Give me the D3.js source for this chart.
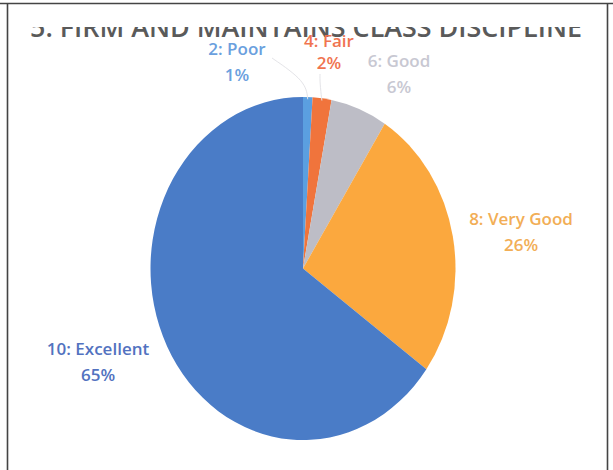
<!DOCTYPE html>
<html>
<head>
<meta charset="utf-8">
<script src="https://cdn.jsdelivr.net/npm/d3@7"></script>
<style>
  body { margin: 0; background: #fff; }
  svg { display: block; }
  .label { font-family: "Open Sans", "Liberation Sans", sans-serif; font-size: 17px; font-weight: 600; text-anchor: middle; }
</style>
</head>
<body>
<div class="wrap-chart"></div>
<script>
// data
var categories = ["2: Poor", "4: Fair", "6: Good", "8: Very Good", "10: Excellent"];
var values = [1, 2, 6, 26, 65];
var colors = ["#5b9fe0", "#f0743c", "#bdbdc6", "#fba83e", "#4a7cc7"];
var labelColors = ["#6aa0de", "#f07450", "#c8c8d2", "#f2ae56", "#5272c0"];
var title = "5. FIRM AND MAINTAINS CLASS DISCIPLINE";

var
  width = 613,
  height = 470,
  cx = 303,
  cy = 268.5,
  radius = 152.5,
  stretchY = 1.125,
  lineGap = 26,
  titleCut = 27;

// label anchors (center x, first baseline y)
var labelPos = {
  "2: Poor": [237, 55],
  "4: Fair": [329, 47],
  "6: Good": [399, 67],
  "8: Very Good": [521, 225],
  "10: Excellent": [98, 355]
};

var data = categories.map(function (c, i) {
  return { label: c, value: values[i], color: colors[i], textColor: labelColors[i] };
});

var svg = d3.select(".wrap-chart")
  .append("svg").attr("width", width)
  .attr("height", height);

// title, only its lower part shows in the scan
svg.append("text")
  .attr("x", 30).attr("y", 37)
  .attr("textLength", 552)
  .attr("lengthAdjust", "spacingAndGlyphs")
  .style("font-family", "'Open Sans', sans-serif")
  .style("font-size", "27px")
  .style("font-weight", 600)
  .style("fill", "#5a5a5a")
  .text(title);
svg.append("rect")
  .attr("x", 0).attr("y", 0)
  .attr("width", width).attr("height", titleCut)
  .attr("fill", "#fff");

// frame
svg.append("line").attr("x1", 0).attr("x2", width).attr("y1", 3.5).attr("y2", 3.5)
  .attr("stroke", "#444").attr("stroke-width", 1.6);
svg.append("line").attr("x1", 7.5).attr("x2", 7.5).attr("y1", 3).attr("y2", height)
  .attr("stroke", "#444").attr("stroke-width", 1.6);
svg.append("line").attr("x1", 607.5).attr("x2", 607.5).attr("y1", 3).attr("y2", height)
  .attr("stroke", "#444").attr("stroke-width", 1.6);

var pie = d3.pie().sort(null).value(function (d) { return d.value; });
var arc = d3.arc().innerRadius(0).outerRadius(radius);

var pieGroup = svg.append("g")
  .attr("transform", "translate(" + cx + "," + cy + ") scale(1," + stretchY + ")");

pieGroup.selectAll(".slice")
  .data(pie(data)).enter()
  .append("path")
  .attr("class", "slice")
  .attr("fill", function (d) { return d.data.color; })
  .attr("d", arc);

// faint leader lines for the two small slices
var edgeArc = d3.arc().innerRadius(radius - 2).outerRadius(radius - 2);
var arcs = pie(data);
[[0, [272, 58]], [1, [320, 74]]].forEach(function (p) {
  var c = edgeArc.centroid(arcs[p[0]]);
  svg.append("path")
    .attr("d", d3.line().curve(d3.curveBasis)([p[1], [c[0] + cx - 2, (c[1] * stretchY + cy) - 18], [c[0] + cx, c[1] * stretchY + cy]]))
    .attr("fill", "none")
    .attr("stroke", "#e4e4e8")
    .attr("stroke-width", 1);
});

var labels = svg.selectAll(".label")
  .data(data).enter()
  .append("text")
  .attr("class", "label")
  .attr("fill", function (d) { return d.textColor; })
  .attr("x", function (d) { return labelPos[d.label][0]; })
  .attr("y", function (d) { return labelPos[d.label][1]; });

labels.append("tspan")
  .attr("x", function (d) { return labelPos[d.label][0]; })
  .text(function (d) { return d.label; });
labels.append("tspan")
  .attr("x", function (d) { return labelPos[d.label][0]; })
  .attr("dy", function (d) { return d.label === "4: Fair" ? 22 : lineGap; })
  .text(function (d) { return d.value + "%"; });
</script>
</body>
</html>
